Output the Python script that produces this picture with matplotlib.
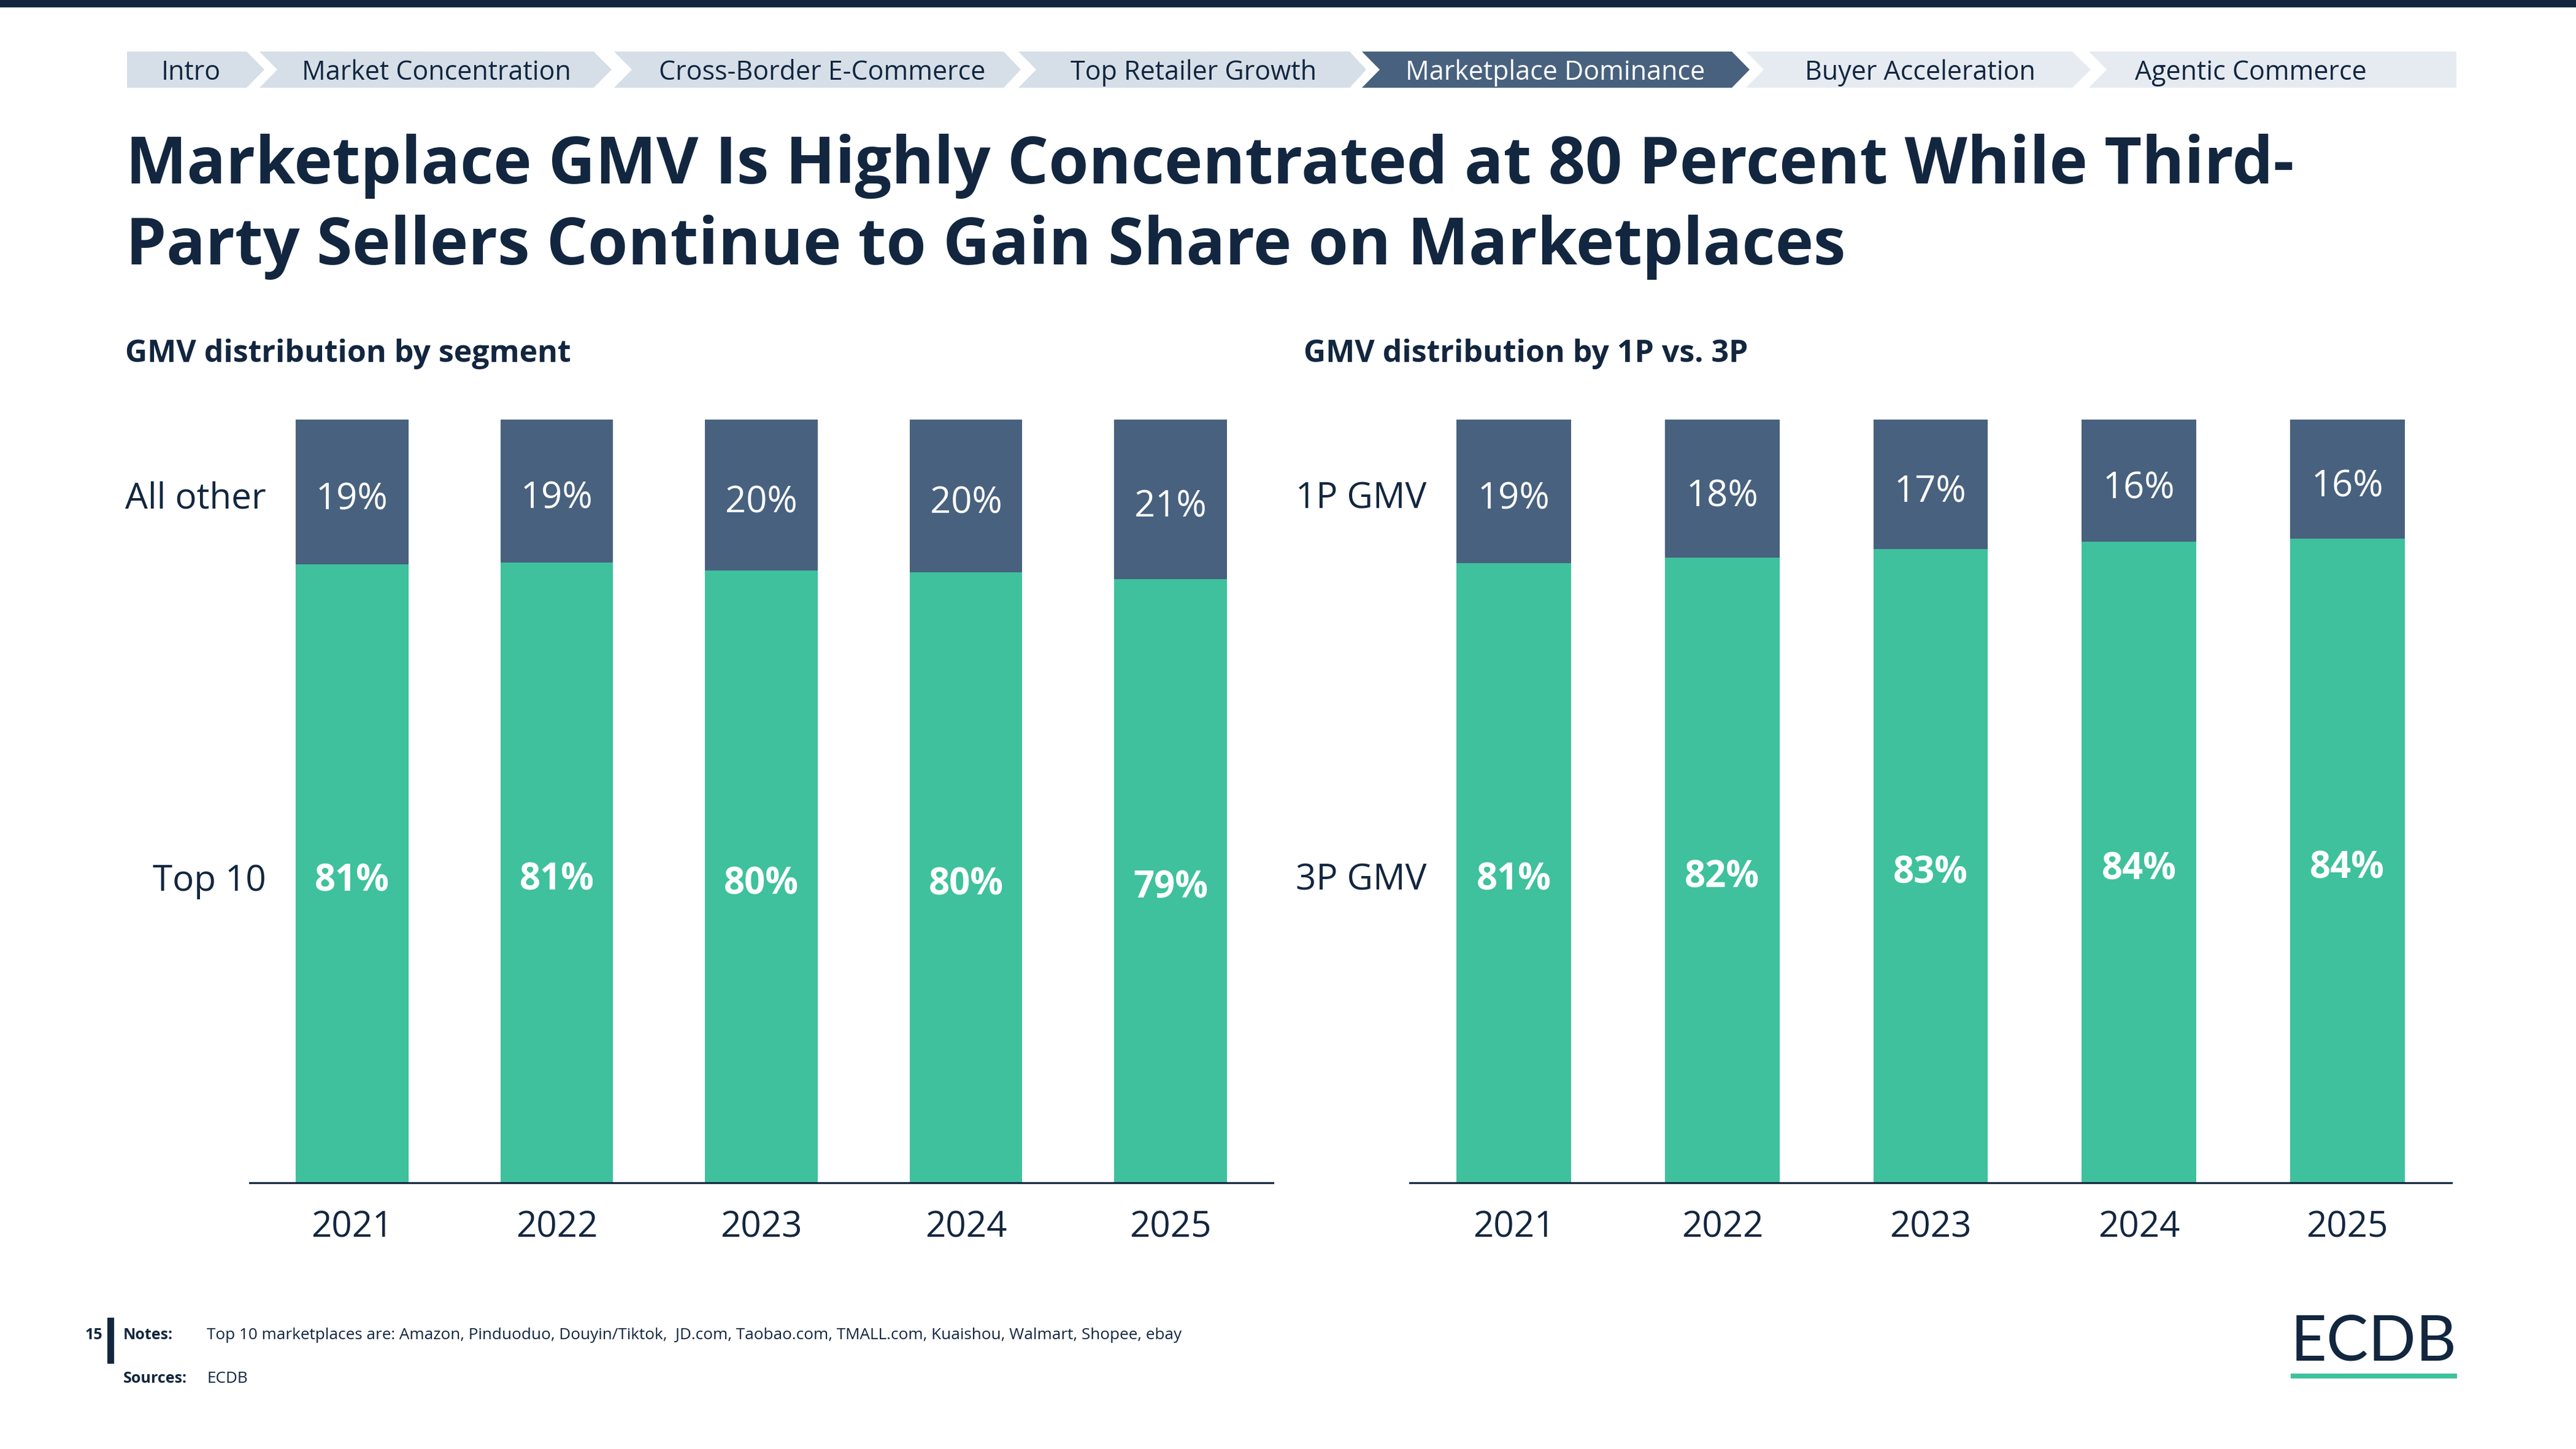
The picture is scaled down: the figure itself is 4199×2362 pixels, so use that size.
import matplotlib
matplotlib.use("Agg")
import matplotlib.pyplot as plt
from matplotlib.patches import Polygon, Rectangle
import numpy as np

W, H = 4199, 2362
NAVY = "#12263F"
SLATE = "#48617E"
GREEN = "#3EC19C"
TAB_DONE = "#D6DFE8"
TAB_NEXT = "#E6EBF1"

# chart data (shares in percent)
years = ["2021", "2022", "2023", "2024", "2025"]
top10 = [81.0, 81.3, 80.2, 80.0, 79.1]
all_other = [19.0, 18.7, 19.8, 20.0, 20.9]
gmv_3p = [81.2, 81.9, 83.0, 84.0, 84.4]
gmv_1p = [18.8, 18.1, 17.0, 16.0, 15.6]

tab_labels = ["Intro", "Market Concentration", "Cross-Border E-Commerce", "Top Retailer Growth",
              "Marketplace Dominance", "Buyer Acceleration", "Agentic Commerce"]
active_tab = 4

plt.rcParams['font.family'] = ['Open Sans', 'DejaVu Sans']


def fx(x):
    return x / W


def fy(y):
    return 1 - y / H


fig = plt.figure(figsize=(W / 100, H / 100), dpi=100)

# top band
fig.patches.append(Rectangle((0, fy(12)), 1, 12 / H, transform=fig.transFigure, color=NAVY, lw=0))

# navigation tabs: (left, right edge, arrow tip, text centre)
tab_geo = [(207, 402, 431, 311), (423, 968, 997, 711), (1001, 1636, 1664, 1340),
           (1660, 2200, 2227, 1946), (2220, 2823, 2852, 2535), (2846, 3378, 3408, 3130),
           (3405, 4004, 4004, 3669)]
t_top, t_bot = 84, 143
t_mid = (t_top + t_bot) / 2
for i, (label, (x0, x1, xp, xc)) in enumerate(zip(tab_labels, tab_geo)):
    notch = 0 if i == 0 else 29
    pts = [(x0, t_top), (x1, t_top), (xp, t_mid), (x1, t_bot), (x0, t_bot), (x0 + notch, t_mid)]
    if i < active_tab:
        fc, tc = TAB_DONE, NAVY
    elif i == active_tab:
        fc, tc = SLATE, "white"
    else:
        fc, tc = TAB_NEXT, NAVY
    fig.patches.append(Polygon([(fx(a), fy(b)) for a, b in pts], closed=True,
                               transform=fig.transFigure, facecolor=fc, lw=0))
    fig.text(fx(xc), fy(t_mid + 5), label, ha="center", va="center", fontsize=31, color=tc)

# title
fig.text(fx(205), fy(299), "Marketplace GMV Is Highly Concentrated at 80 Percent While Third-",
         fontsize=76, fontweight="bold", color=NAVY, va="baseline")
fig.text(fx(205), fy(431), "Party Sellers Continue to Gain Share on Marketplaces",
         fontsize=76, fontweight="bold", color=NAVY, va="baseline")

fig.text(fx(204), fy(590), "GMV distribution by segment", fontsize=36, fontweight="bold",
         color=NAVY, va="baseline")
fig.text(fx(2125), fy(590), "GMV distribution by 1P vs. 3P", fontsize=36, fontweight="bold",
         color=NAVY, va="baseline")


def draw_panel(ax, bottom_vals, top_vals, bottom_name, top_name):
    x = np.arange(len(years))
    ax.bar(x, bottom_vals, width=0.55, color=GREEN)
    ax.bar(x, top_vals, bottom=bottom_vals, width=0.55, color=SLATE)

    for i in range(len(years)):
        b, t = bottom_vals[i], top_vals[i]
        ax.annotate(f"{b:.0f}%", (i, b / 2), xytext=(0, -9), textcoords="offset points",
                    ha="center", va="center", fontsize=43, fontweight="bold", color="white")
        ax.annotate(f"{t:.0f}%", (i, b + t / 2), xytext=(0, -9), textcoords="offset points",
                    ha="center", va="center", fontsize=43, color="white")

    # series names next to the first bar
    ax.annotate(bottom_name, (-0.42, bottom_vals[0] / 2), xytext=(0, -9), textcoords="offset points",
                ha="right", va="center", fontsize=42, color=NAVY, annotation_clip=False)
    ax.annotate(top_name, (-0.42, bottom_vals[0] + top_vals[0] / 2), xytext=(0, -9),
                textcoords="offset points", ha="right", va="center", fontsize=42, color=NAVY,
                annotation_clip=False)

    ax.set_xlim(-0.5, 4.5)
    ax.set_ylim(0, 100)
    for s in ["top", "left", "right"]:
        ax.spines[s].set_visible(False)
    ax.spines["bottom"].set_color(NAVY)
    ax.spines["bottom"].set_linewidth(2.2)
    ax.set_yticks([])
    ax.set_xticks(x, years)
    ax.tick_params(axis="x", length=0, pad=32, labelsize=42, labelcolor=NAVY)


ax1 = fig.add_axes([fx(407), fy(1928), (2075 - 407) / W, (1928 - 684) / H])
draw_panel(ax1, top10, all_other, "Top 10", "All other")

ax2 = fig.add_axes([fx(2298), fy(1928), (3996 - 2298) / W, (1928 - 684) / H])
draw_panel(ax2, gmv_3p, gmv_1p, "3P GMV", "1P GMV")

# footer
fig.text(fx(167), fy(2183), "15", fontsize=18, fontweight="bold", color=NAVY, ha="right", va="baseline")
fig.patches.append(Rectangle((fx(175), fy(2223)), 11 / W, 75 / H, transform=fig.transFigure,
                             color=NAVY, lw=0))
fig.text(fx(201), fy(2183), "Notes:", fontsize=18, fontweight="bold", color=NAVY, va="baseline")
fig.text(fx(337), fy(2183),
         "Top 10 marketplaces are: Amazon, Pinduoduo, Douyin/Tiktok,  JD.com, Taobao.com, TMALL.com, "
         "Kuaishou, Walmart, Shopee, ebay",
         fontsize=18.8, color=NAVY, va="baseline")
fig.text(fx(201), fy(2254), "Sources:", fontsize=18, fontweight="bold", color=NAVY, va="baseline")
fig.text(fx(337), fy(2254), "ECDB", fontsize=18.8, color=NAVY, va="baseline")

# logo, sized to the width of its underline
logo = fig.text(fx(3734), fy(2217), "ECDB", fontsize=68, family=["Lato", "DejaVu Sans"],
                color=NAVY, va="baseline")
renderer = fig.canvas.get_renderer()
lw = logo.get_window_extent(renderer).width
logo.set_fontsize(68 * (4005 - 3734) / lw)
fig.patches.append(Rectangle((fx(3734), fy(2247)), (4005 - 3734) / W, 8 / H, transform=fig.transFigure,
                             color=GREEN, lw=0))

fig.savefig("out.png", dpi=100, facecolor="white")
